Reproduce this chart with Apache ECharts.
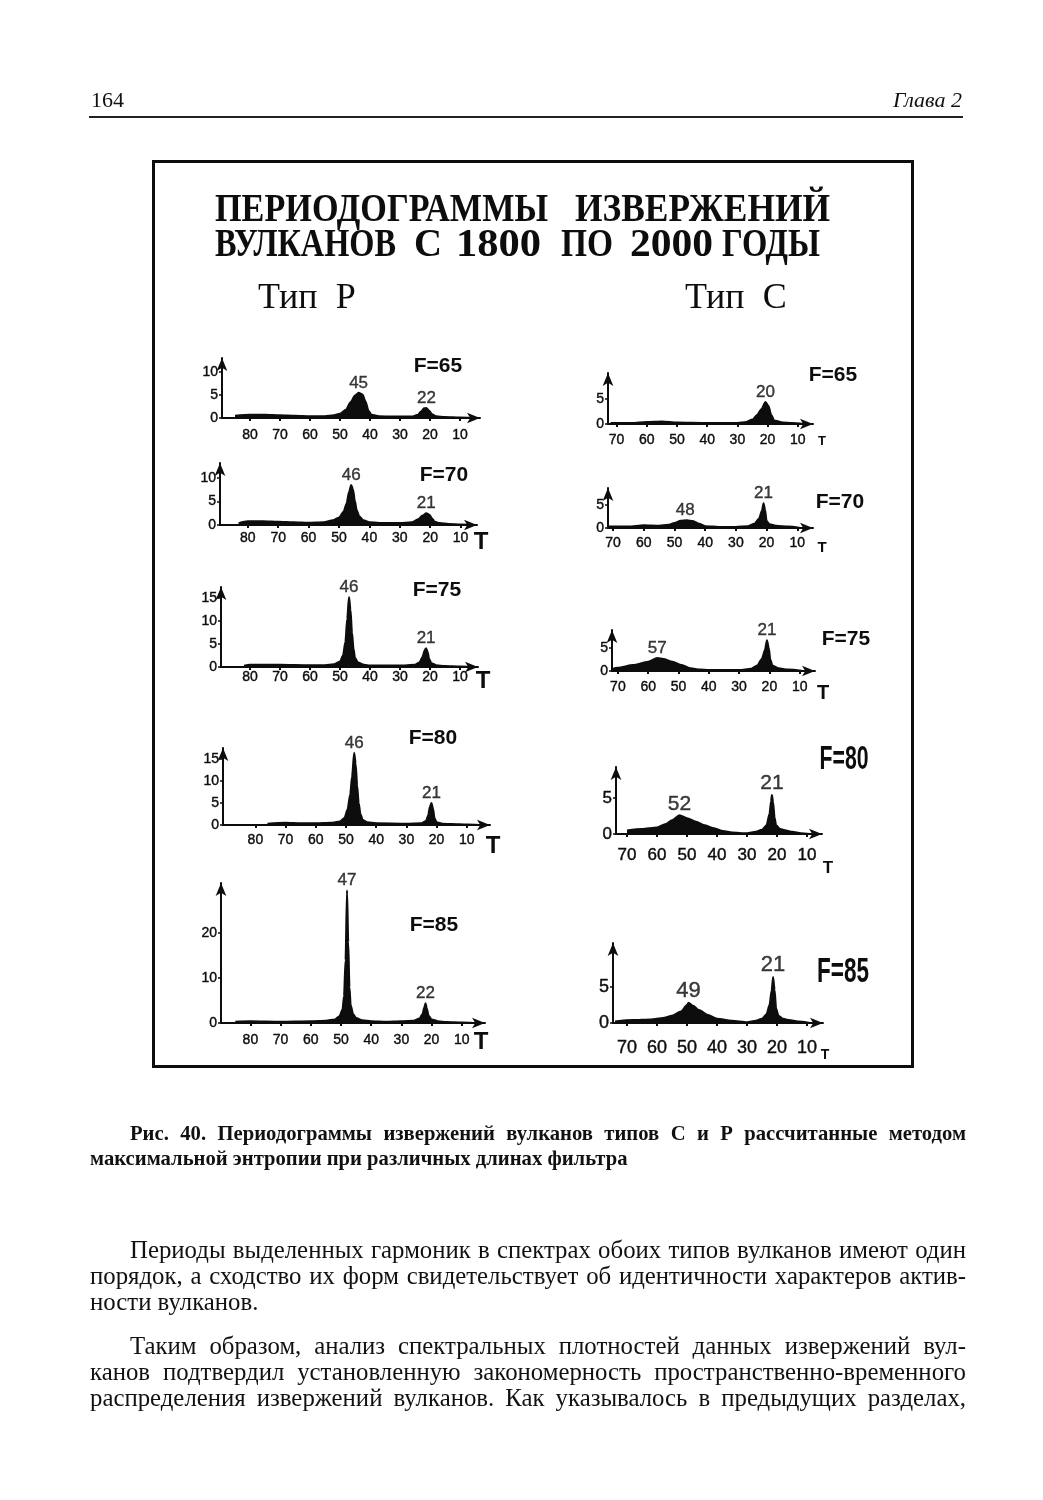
<!DOCTYPE html>
<html><head><meta charset="utf-8">
<script src="https://cdn.jsdelivr.net/npm/echarts@6/dist/echarts.min.js"></script>
<style>
html,body{margin:0;padding:0;background:#fff;}
#page{position:relative;width:1043px;height:1500px;overflow:hidden;background:#fff;}
#chart{position:absolute;left:0;top:0;width:1043px;height:1500px;}
.t{position:absolute;font-family:"Liberation Serif","Times New Roman",serif;color:#111;white-space:nowrap;display:inline-block;}
.body{font-size:21px;line-height:26px;}
.cap{font-size:19px;line-height:24px;font-weight:bold;}
#rule{position:absolute;left:89px;top:116px;width:874px;height:2px;background:#222;}
</style></head><body>
<div id="page">
<div id="chart"></div>
<div class="t" style="left:91px;top:88px;font-size:22px;line-height:24px;">164</div>
<div class="t" id="hdr" style="top:88px;font-size:22px;line-height:24px;font-style:italic;">Глава 2</div>
<div id="rule"></div>
<div class="t cap j" data-w="836" style="left:130px;top:1121px;">Рис. 40. Периодограммы извержений вулканов типов С и Р рассчитанные методом</div>
<div class="t cap" id="cap2" style="left:90px;top:1146px;">максимальной энтропии при различных длинах фильтра</div>
<div class="t body j" data-w="836" style="left:130px;top:1237px;">Периоды выделенных гармоник в спектрах обоих типов вулканов имеют один</div>
<div class="t body j" id="bref" data-w="876" style="left:90px;top:1263px;">порядок, а сходство их форм свидетельствует об идентичности характеров актив-</div>
<div class="t body" style="left:90px;top:1289px;">ности вулканов.</div>
<div class="t body j" data-w="836" style="left:130px;top:1333px;">Таким образом, анализ спектральных плотностей данных извержений вул-</div>
<div class="t body j" data-w="876" style="left:90px;top:1359px;">канов подтвердил установленную закономерность пространственно-временного</div>
<div class="t body j" data-w="876" style="left:90px;top:1385px;">распределения извержений вулканов. Как указывалось в предыдущих разделах,</div>
</div>
<script>
// ---------- tick labels ----------
const xTicksP = [80,70,60,50,40,30,20,10];
const xTicksC = [70,60,50,40,30,20,10];
const yTicks10 = [0,5,10];
const yTicks15 = [0,5,10,15];
const yTicks20 = [0,10,20];
const yTicks5 = [0,5];

// ---------- Тип Р: [period T, power] ----------
const curveP65 = [[85,0.5],[80,0.7],[75,0.7],[70,0.6],[65,0.5],[60,0.4],[55,0.4],[52,0.6],[50,0.9],[48,1.8],[46.5,3.4],[45,4.9],[43.8,5.5],[42.5,5.1],[41.5,3.6],[40.5,1.6],[39.5,0.7],[37,0.4],[30,0.3],[26,0.3],[24,0.7],[23,1.4],[22,2.1],[21.2,2.2],[20.3,1.6],[19.3,0.8],[18,0.4],[15,0.2],[10,0.1],[6,0]];
const peaksP65 = [[43.8,5.5,'45'],[21.2,2.2,'22']];
const curveP70 = [[83,0.4],[80,0.8],[75,0.8],[70,0.7],[65,0.6],[60,0.5],[55,0.6],[52,1.0],[50,1.6],[48.5,2.8],[47.5,4.6],[46.7,7.0],[46,8.5],[45.4,7.6],[44.8,5.2],[44.2,3.2],[43.3,1.8],[42,1.0],[40,0.6],[35,0.4],[30,0.4],[26,0.6],[24,1.2],[22.5,2.0],[21.3,2.5],[20.3,2.2],[19.4,1.4],[18.5,0.7],[17,0.4],[14,0.2],[10,0.1],[6,0]];
const peaksP70 = [[46,8.5,'46'],[21.3,2.5,'21']];
const curveP75 = [[82,0.3],[80,0.5],[70,0.5],[60,0.4],[55,0.4],[52,0.6],[50,1.2],[49,2.5],[48.2,5.5],[47.6,10.5],[47,15.2],[46.5,12.5],[46,7.5],[45.5,4],[45,2],[44,1],[42,0.5],[40,0.3],[30,0.3],[25,0.5],[23.5,1],[22.5,2.2],[21.8,3.6],[21.3,4.1],[20.8,3.3],[20.3,1.8],[19.5,0.8],[18,0.4],[15,0.2],[10,0.1],[6,0]];
const peaksP75 = [[47,15.2,'46'],[21.3,4.1,'21']];
const curveP80 = [[76,0.3],[70,0.5],[65,0.4],[60,0.4],[55,0.5],[52,0.8],[50.5,1.6],[49.5,3.5],[48.6,7],[48,11],[47.3,16.4],[46.8,14],[46.3,9],[45.8,5],[45.2,2.5],[44.5,1.2],[43,0.6],[40,0.4],[30,0.3],[25,0.4],[23.5,0.9],[22.8,2.2],[22.2,4.2],[21.7,5],[21.2,3.8],[20.7,1.6],[20,0.6],[18,0.3],[15,0.2],[10,0.1],[6,0]];
const peaksP80 = [[47.3,16.4,'46'],[21.7,5,'21']];
const curveP85 = [[85,0.3],[80,0.4],[70,0.3],[60,0.4],[55,0.5],[52,0.8],[50.5,1.5],[49.5,3],[49,6],[48.5,14],[48,29.5],[47.6,18],[47.2,8],[46.8,4],[46,2],[45,1.1],[43,0.6],[40,0.4],[35,0.3],[30,0.4],[26,0.5],[24,1],[23,2],[22.4,3.5],[22,4.4],[21.6,3.3],[21,1.6],[20,0.8],[18,0.4],[15,0.2],[10,0.1],[6,0]];
const peaksP85 = [[48,29.5,'47'],[22,4.4,'22']];

// ---------- Тип С ----------
const curveC65 = [[72,0.2],[65,0.2],[60,0.4],[55,0.5],[50,0.3],[40,0.2],[30,0.2],[27,0.4],[25,0.9],[23.5,1.8],[22,3],[20.7,4.4],[19.7,3.6],[18.8,1.8],[17.8,0.7],[15,0.3],[12,0.2],[8,0]];
const peaksC65 = [[20.7,4.4,'20']];
const curveC70 = [[72,0.3],[65,0.3],[60,0.6],[55,0.5],[52,0.7],[50,1.1],[48,1.6],[46,1.7],[44,1.5],[42,0.9],[40,0.4],[35,0.2],[30,0.2],[26,0.4],[24,0.9],[22.5,2],[21.5,3.8],[21,5.4],[20.5,4],[20,1.5],[19,0.8],[17,0.5],[13,0.3],[9,0]];
const peaksC70 = [[46.5,1.7,'48'],[21,5.4,'21']];
const curveC75 = [[72,0.4],[70,0.7],[65,1.3],[60,2],[57,2.8],[55,2.6],[52,2],[49,1.3],[46,0.6],[43,0.3],[40,0.2],[30,0.2],[26,0.5],[24,1.2],[22.5,2.6],[21.5,4.5],[20.8,6.7],[20.2,5],[19.7,2.5],[19,1.2],[17,0.6],[14,0.3],[9,0]];
const peaksC75 = [[57,2.8,'57'],[20.8,6.7,'21']];
const curveC80 = [[70,0.5],[65,0.7],[60,0.9],[57,1.4],[55,1.9],[52.5,2.6],[50,2.2],[47,1.7],[44,1.2],[41,0.8],[38,0.4],[35,0.2],[30,0.1],[27,0.3],[25,0.6],[23.5,1.2],[22.5,2.8],[22,4.5],[21.7,5.4],[21.3,4.4],[20.8,2.3],[20.3,1.2],[19,0.7],[17,0.5],[15,0.3],[12,0.1],[9,0]];
const peaksC80 = [[52.5,2.6,'52'],[21.7,5.4,'21']];
const curveC85 = [[74,0.2],[68,0.4],[62,0.5],[58,0.7],[55,1],[52,1.6],[50,2.5],[49.5,2.8],[48,2.4],[46,1.8],[43,1.1],[40,0.6],[35,0.3],[30,0.1],[27,0.3],[25,0.6],[23.5,1.2],[22.5,2.5],[21.8,4.5],[21.3,6.4],[20.8,4.6],[20.3,2],[19.5,1],[18,0.6],[16,0.4],[13,0.2],[9,0]];
const peaksC85 = [[49.5,2.8,'49'],[21.3,6.4,'21']];

const filterLabels = ['F=65','F=70','F=75','F=80','F=85'];
const titleWords1 = ['ПЕРИОДОГРАММЫ','ИЗВЕРЖЕНИЙ'];
const titleWords2 = ['ВУЛКАНОВ','С','1800','ПО','2000','ГОДЫ'];
const typeLabels = ['Тип  Р','Тип  С'];

// ---------- layout (pixels) ----------
const SANS = '"Liberation Sans", Arial, sans-serif';
const INK = '#0d0d0d';
const panels = [
 {c:curveP65,p:peaksP65,xt:xTicksP,yt:yTicks10,f:0,left:222,zeroY:418,x0:490,xs:3.0,xEnd:485,yu:4.6,yTop:353,tf:14,lm:10,pf:17,fx:438,fy:366,fs:21,fw:0,T:null},
 {c:curveP70,p:peaksP70,xt:xTicksP,yt:yTicks10,f:1,left:220,zeroY:525,x0:491,xs:3.04,xEnd:482,yu:4.7,yTop:458,tf:14,lm:6,pf:17,fx:444,fy:475,fs:21,fw:0,T:[481,542,24]},
 {c:curveP75,p:peaksP75,xt:xTicksP,yt:yTicks15,f:2,left:221,zeroY:667,x0:490,xs:3.0,xEnd:483,yu:4.6,yTop:582,tf:14,lm:3,pf:17,fx:437,fy:590,fs:21,fw:0,T:[483,681,24]},
 {c:curveP80,p:peaksP80,xt:xTicksP,yt:yTicks15,f:3,left:223,zeroY:825,x0:497,xs:3.02,xEnd:495,yu:4.4,yTop:743,tf:14,lm:8,pf:17,fx:433,fy:738,fs:21,fw:0,T:[493,846,24]},
 {c:curveP85,p:peaksP85,xt:xTicksP,yt:yTicks20,f:4,left:221,zeroY:1023,x0:492,xs:3.02,xEnd:490,yu:4.5,yTop:878,tf:14,lm:10,pf:17,fx:434,fy:925,fs:21,fw:0,T:[481,1042,24]},
 {c:curveC65,p:peaksC65,xt:xTicksC,yt:yTicks5,f:0,left:608,zeroY:424,x0:828,xs:3.02,xEnd:818,yu:5.0,yTop:368,tf:14,lm:9,pf:17,fx:833,fy:375,fs:21,fw:0,T:[822,441,13]},
 {c:curveC70,p:peaksC70,xt:xTicksC,yt:yTicks5,f:1,left:608,zeroY:528,x0:828,xs:3.07,xEnd:818,yu:4.6,yTop:483,tf:14,lm:8,pf:17,fx:840,fy:502,fs:21,fw:0,T:[822,548,15]},
 {c:curveC75,p:peaksC75,xt:xTicksC,yt:yTicks5,f:2,left:612,zeroY:671,x0:830,xs:3.03,xEnd:820,yu:4.6,yTop:625,tf:14,lm:9,pf:17,fx:846,fy:639,fs:21,fw:0,T:[823,693,20]},
 {c:curveC80,p:peaksC80,xt:xTicksC,yt:yTicks5,f:3,left:616,zeroY:834,x0:837,xs:3.0,xEnd:827,yu:7.2,yTop:762,tf:17,lm:13,pf:21,fx:844,fy:760,fs:33,fw:49,T:[828,868,17]},
 {c:curveC85,p:peaksC85,xt:xTicksC,yt:yTicks5,f:4,left:613,zeroY:1023,x0:837,xs:3.0,xEnd:828,yu:7.2,yTop:938,tf:18,lm:16,pf:22,fx:843,fy:972,fs:35,fw:52,T:[825,1055,14]}
];

const mctx = document.createElement('canvas').getContext('2d');
function textW(text,font){mctx.font=font;return mctx.measureText(text).width;}

const grids=[], xAxes=[], yAxes=[], series=[], graphics=[];
panels.forEach((p,i)=>{
  const right = p.xEnd - 5, top = p.yTop + 5;
  const width = right - p.left, height = p.zeroY - top;
  grids.push({left:p.left, top:top, width:width, height:height, outerBoundsMode:'none', containLabel:false});
  xAxes.push({gridIndex:i,type:'value',inverse:true,
    min:(p.x0-right)/p.xs, max:(p.x0-p.left)/p.xs,
    axisLine:{show:true,onZero:false,lineStyle:{color:INK,width:2},symbol:['none','arrow'],symbolSize:[8,13]},
    axisTick:{show:true,customValues:p.xt,length:3,lineStyle:{color:INK,width:2}},
    axisLabel:{show:true,customValues:p.xt,color:INK,fontSize:p.tf,fontFamily:SANS,margin:p.lm,textBorderColor:INK,textBorderWidth:0.4},
    splitLine:{show:false}});
  yAxes.push({gridIndex:i,type:'value',min:0,max:height/p.yu,
    axisLine:{show:true,onZero:false,lineStyle:{color:INK,width:2},symbol:['none','arrow'],symbolSize:[8,13]},
    axisTick:{show:true,customValues:p.yt,length:3,lineStyle:{color:INK,width:1.5}},
    axisLabel:{show:true,customValues:p.yt,color:INK,fontSize:p.tf,fontFamily:SANS,margin:4,textBorderColor:INK,textBorderWidth:0.4},
    splitLine:{show:false}});
  series.push({type:'line',xAxisIndex:i,yAxisIndex:i,data:p.c,symbol:'none',smooth:0.25,smoothMonotone:'x',
    lineStyle:{color:INK,width:2},areaStyle:{color:INK,opacity:1},silent:true,z:3});
  series.push({type:'scatter',xAxisIndex:i,yAxisIndex:i,data:p.p,symbolSize:0,silent:true,z:4,
    label:{show:true,position:'top',distance:1,color:INK,fontSize:p.pf,fontFamily:SANS,textBorderColor:INK,textBorderWidth:0.4,
      formatter:(d)=>d.value[2]}});
  const ffont = 'bold '+p.fs+'px '+SANS;
  const fsx = p.fw ? p.fw/textW(filterLabels[p.f],ffont) : 1;
  graphics.push({type:'text',x:p.fx,y:p.fy,scaleX:fsx,style:{text:filterLabels[p.f],font:ffont,fill:INK,textAlign:'center',textVerticalAlign:'middle'}});
  if(p.T){graphics.push({type:'text',x:p.T[0],y:p.T[1],style:{text:'T',font:'bold '+p.T[2]+'px '+SANS,fill:INK,textAlign:'center',textVerticalAlign:'middle'}});}
});

// figure frame, title and column headings
const TFONT = 'bold 40px "Liberation Serif", serif';
const title1Spans = [[215,548],[575,830]];
const title2Spans = [[215,396],[414,442],[456,541],[561,613],[630,713],[722,820]];
function addWords(words,spans,y){
  words.forEach((w,k)=>{
    const s = spans[k];
    graphics.push({type:'text',x:s[0],y:y,scaleX:(s[1]-s[0])/textW(w,TFONT),
      style:{text:w,font:TFONT,fill:INK,textAlign:'left',textVerticalAlign:'middle'}});
  });
}
graphics.push({type:'rect',shape:{x:153.5,y:161.5,width:759,height:905},style:{fill:'none',stroke:INK,lineWidth:3}});
addWords(titleWords1,title1Spans,211);
addWords(titleWords2,title2Spans,246);
graphics.push({type:'text',x:258,y:299,style:{text:typeLabels[0],font:'36px "Liberation Serif", serif',fill:INK,textAlign:'left',textVerticalAlign:'middle'}});
graphics.push({type:'text',x:685,y:299,style:{text:typeLabels[1],font:'36px "Liberation Serif", serif',fill:INK,textAlign:'left',textVerticalAlign:'middle'}});

const chart = echarts.init(document.getElementById('chart'),null,{renderer:'canvas'});
chart.setOption({animation:false,backgroundColor:'transparent',grid:grids,xAxis:xAxes,yAxis:yAxes,series:series,graphic:graphics});

// ---------- page text sizing ----------
function fitFont(sel, refEl, target){
  const fs0 = parseFloat(getComputedStyle(refEl).fontSize);
  const w = refEl.getBoundingClientRect().width;
  const fs = fs0*target/w;
  document.querySelectorAll(sel).forEach(e=>e.style.fontSize=fs+'px');
}
fitFont('.body', document.getElementById('bref'), 862);
fitFont('.cap', document.getElementById('cap2'), 538);
document.querySelectorAll('.j').forEach(el=>{
  el.style.wordSpacing='0px';
  const w = el.getBoundingClientRect().width;
  const n = (el.textContent.match(/ /g)||[]).length;
  if(n>0) el.style.wordSpacing = ((+el.dataset.w - w)/n)+'px';
});
const h = document.getElementById('hdr');
h.style.left = (962 - h.getBoundingClientRect().width)+'px';
</script>
</body></html>
